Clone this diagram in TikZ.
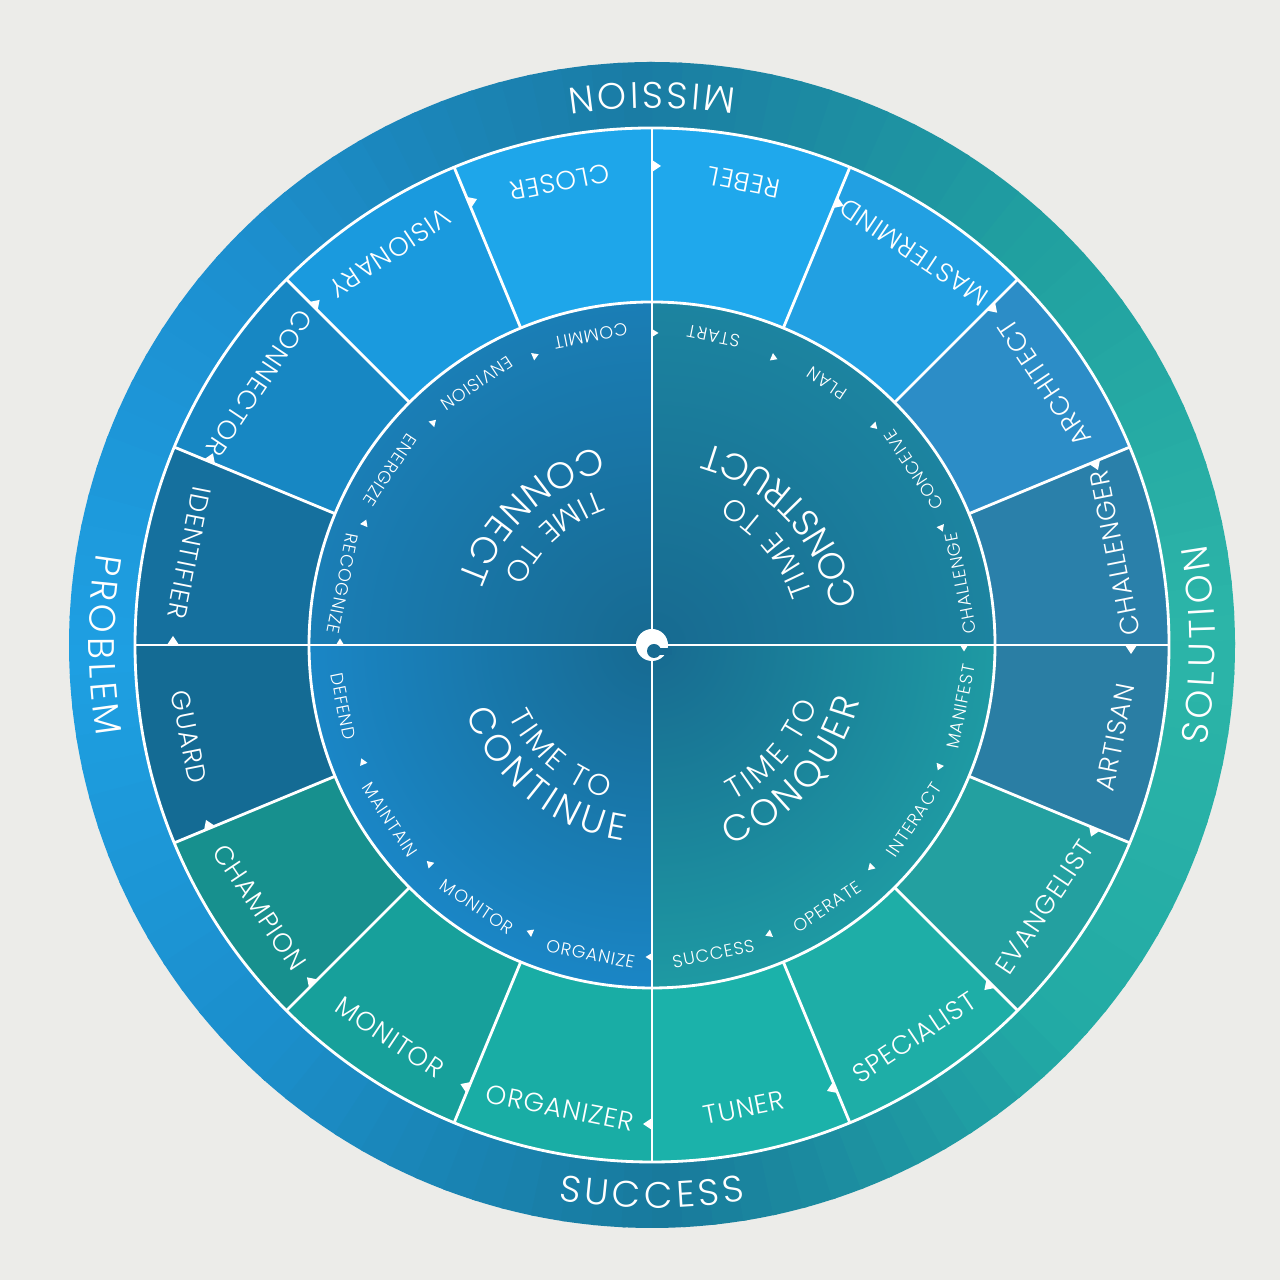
\documentclass[tikz,border=0pt]{standalone}
\usepackage{fontspec}
\setmainfont{Poppins}[UprightFont={* Light}]

\definecolor{wall}{HTML}{ECECE9}
\definecolor{ringE}{HTML}{2CB5A8}
\definecolor{ringNE}{HTML}{20A0A0}
\definecolor{ringN}{HTML}{1A7CA4}
\definecolor{ringNW}{HTML}{1C8FCF}
\definecolor{ringW}{HTML}{1E9FE2}
\definecolor{ringSW}{HTML}{1B8ECB}
\definecolor{ringS}{HTML}{187A9C}
\definecolor{ringSE}{HTML}{22AAA5}
\definecolor{hubC}{HTML}{176A91}
\definecolor{innNE}{HTML}{1C84A0}
\definecolor{innNW}{HTML}{1A7EB6}
\definecolor{innSW}{HTML}{1A86C6}
\definecolor{innSE}{HTML}{1E9AA3}

% letter widths at 10pt, measured once outside the picture ("." is a word gap)
\AtBeginDocument{%
  \foreach \ch in {B,C,E,I,L,M,N,O,P,Q,R,S,T,U}{%
    \setbox0\hbox{\fontsize{10}{10}\selectfont\ch}%
    \expandafter\xdef\csname lw\ch\endcsname{\the\wd0}}%
  \setbox0\hbox{\fontsize{10}{10}\selectfont\ }%
  \expandafter\xdef\csname lw.\endcsname{\the\wd0}%
}

% curved white label, letter by letter, tops towards the centre
% #1 centre angle, #2 baseline radius (cm), #3 font size, #4 tracking (pt), #5 letters
\newcommand{\arcword}[5]{%
  \gdef\arcpos{0}%
  \foreach \ch in {#5}{%
    \pgfmathparse{\arcpos+\csname lw\ch\endcsname*#3/10+#4}\xdef\arcpos{\pgfmathresult}}%
  \pgfmathsetmacro\arcstart{#1-(\arcpos-#4)/2/(#2*28.4528)*57.2958}%
  \gdef\arcpos{0}%
  \foreach \ch in {#5}{%
    \pgfmathsetmacro\chw{\csname lw\ch\endcsname*#3/10}%
    \pgfmathsetmacro\chang{\arcstart+(\arcpos+\chw/2)/(#2*28.4528)*57.2958}%
    \if\ch.\else
      \node[arcletter, font=\fontsize{#3}{#3}\selectfont, rotate=\chang+90]
        at (\chang:#2) {\ch};
    \fi
    \pgfmathparse{\arcpos+\chw+#4}\xdef\arcpos{\pgfmathresult}}%
}

\begin{document}
\begin{tikzpicture}[
    wline/.style={white, line width=0.8pt},
    roleword/.style={text=white, inner sep=0pt,
      font=\fontsize{7.5}{8}\selectfont\addfontfeature{LetterSpace=4}},
    verbword/.style={text=white, inner sep=0pt,
      font=\fontsize{5}{6}\selectfont\addfontfeature{LetterSpace=5}},
    arcletter/.style={text=white, inner sep=0pt, anchor=base},
]
  \fill[wall] (0,0) rectangle (12.8,12.8);
  \useasboundingbox (0,0) rectangle (12.8,12.8);

  \begin{scope}[shift={(6.52,6.35)}]
  % outer ring, colour turning round the disc
  \foreach \a/\ca/\cb in {0/ringE/ringNE, 45/ringNE/ringN, 90/ringN/ringNW,
      135/ringNW/ringW, 180/ringW/ringSW, 225/ringSW/ringS,
      270/ringS/ringSE, 315/ringSE/ringE}{
    \foreach \k in {0,...,14}{
      \pgfmathtruncatemacro\p{100-\k*100/15}
      \pgfmathsetmacro\st{\a+\k*3}
      \fill[\ca!\p!\cb] (0,0) -- (\st:5.83)
        arc[start angle=\st, end angle=\st+3.4, radius=5.83] -- cycle;
    }
  }

  % sixteen roles
  \foreach \h [count=\i from 0] in {2A80AA,2C8DC7,22A0E2,1FA8EC,1EA6EA,1A9ADE,
      1787C3,15709E,146B94,17908E,17A09B,19ADA5,1BB2AA,1EAEA7,23A0A0,2A7EA4}{
    \definecolor{segfill}{HTML}{\h}
    \fill[segfill] (0,0) -- ({\i*22.5}:5.17)
      arc[start angle={\i*22.5}, end angle={\i*22.5+22.6}, radius=5.17] -- cycle;
  }

  % inner disc, one shading per quarter
  \foreach \q/\c in {0/innNE, 90/innNW, 180/innSW, 270/innSE}{
    \begin{scope}
      \clip (0,0) -- (\q:3.44) arc[start angle=\q, end angle=\q+90, radius=3.44] -- cycle;
      \shade[inner color=hubC, outer color=\c] (0,0) circle (3.44);
    \end{scope}
  }

  % white lines
  \draw[wline] (0,0) circle (3.43);
  \draw[wline] (0,0) circle (5.17);
  \foreach \a in {0,22.5,...,337.5}
    \draw[wline] (\a:3.43) -- (\a:5.17);
  \draw[wline] (-3.43,0) -- (3.43,0);
  \draw[wline] (0,-3.43) -- (0,3.43);

  % markers, pointing clockwise
  \foreach \a in {0,22.5,...,337.5}{
    \fill[white, rotate=\a] (4.73,0) -- (4.85,0) -- (4.79,-0.09) -- cycle;
    \fill[white, rotate=\a] (3.08,0) -- (3.16,0) -- (3.12,-0.065) -- cycle;
  }

  % hub
  \fill[white] (0,0) circle (0.16);
  \fill[hubC] (0.02,-0.06) circle (0.07);
  \fill[hubC] (0.02,-0.03) -- (0.2,-0.03) -- (0.2,-0.1) -- (0.02,-0.1) -- cycle;

  % role names
  \foreach \w [count=\i from 0] in {CHALLENGER,ARCHITECT,MASTERMIND,REBEL,CLOSER,
      VISIONARY,CONNECTOR,IDENTIFIER,GUARD,CHAMPION,MONITOR,ORGANIZER,
      TUNER,SPECIALIST,EVANGELIST,ARTISAN}{
    \pgfmathsetmacro\a{11.25+22.5*\i}
    \node[roleword, rotate=\a+90] (role\i) at (\a:4.72) {\w};
  }

  % steps of each quarter
  \foreach \w [count=\i from 0] in {CHALLENGE,CONCEIVE,PLAN,START,COMMIT,
      ENVISION,ENERGIZE,RECOGNIZE,DEFEND,MAINTAIN,MONITOR,ORGANIZE,
      SUCCESS,OPERATE,INTERACT,MANIFEST}{
    \pgfmathsetmacro\a{11.25+22.5*\i}
    \node[verbword, rotate=\a+90] (verb\i) at (\a:3.15) {\w};
  }

  % ring labels
  \arcword{90}{5.63}{10.5}{1.2}{M,I,S,S,I,O,N}
  \arcword{180}{5.63}{10.5}{1.2}{P,R,O,B,L,E,M}
  \arcword{270}{5.63}{10.5}{1.2}{S,U,C,C,E,S,S}
  \arcword{0}{5.63}{10.5}{1.2}{S,O,L,U,T,I,O,N}

  % quarter titles
  \arcword{132}{1.63}{8.5}{1.0}{T,I,M,E,.,T,O}
  \arcword{133}{2.05}{10.5}{1.2}{C,O,N,N,E,C,T}
  \arcword{40}{1.68}{8.5}{1.0}{T,I,M,E,.,T,O}
  \arcword{43}{2.09}{10.5}{0.5}{C,O,N,S,T,R,U,C,T}
  \arcword{230}{1.60}{8.5}{1.0}{T,I,M,E,.,T,O}
  \arcword{231}{1.98}{10.5}{1.4}{C,O,N,T,I,N,U,E}
  \arcword{319}{1.76}{8.5}{1.0}{T,I,M,E,.,T,O}
  \arcword{318}{2.15}{10.5}{1.2}{C,O,N,Q,U,E,R}
  \end{scope}
\end{tikzpicture}
\end{document}
